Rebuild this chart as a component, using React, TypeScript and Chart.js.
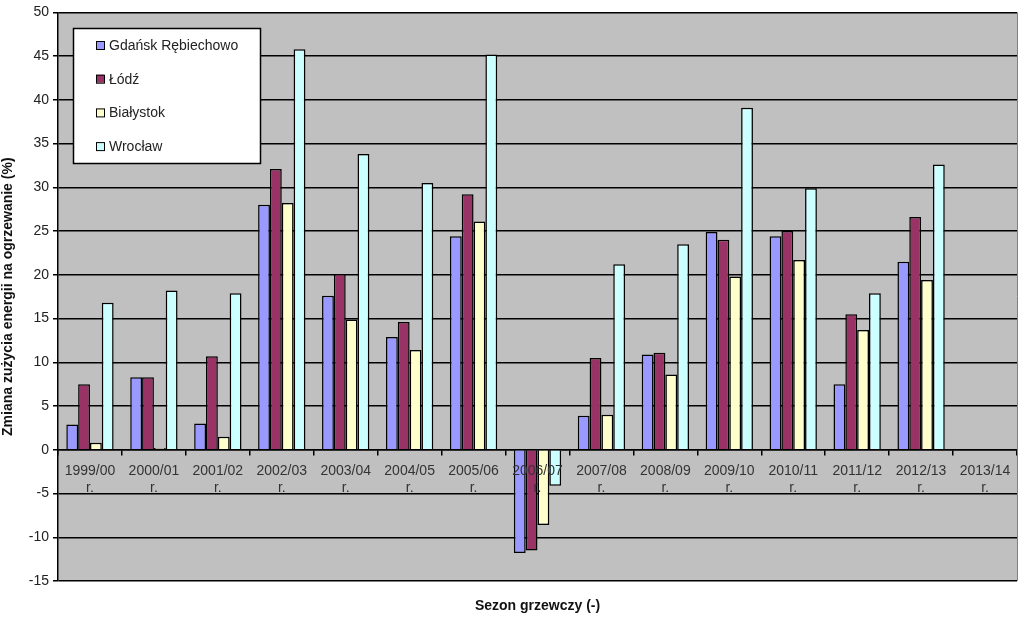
import React, { useEffect, useRef } from "react";
import { Chart, registerables } from "chart.js";

Chart.register(...registerables);

const seasons = [
  "1999/00", "2000/01", "2001/02", "2002/03", "2003/04", "2004/05", "2005/06",
  "2006/07", "2007/08", "2008/09", "2009/10", "2010/11", "2011/12", "2012/13", "2013/14",
];
const seasonSuffix = "r.";

const seriesNames = ["Gdańsk Rębiechowo", "Łódź", "Białystok", "Wrocław"];
const seriesColors = ["#9999FF", "#993366", "#FFFFCC", "#CCFFFF"];

const gdansk = [2.9, 8.3, 3.0, 28.0, 17.6, 12.9, 24.4, -11.8, 3.9, 10.9, 24.9, 24.4, 7.5, 21.5, null];
const lodz = [7.5, 8.3, 10.7, 32.1, 20.1, 14.6, 29.2, -11.5, 10.5, 11.1, 24.0, 25.0, 15.5, 26.6, null];
const bialystok = [0.8, 0.2, 1.5, 28.2, 14.9, 11.4, 26.1, -8.6, 4.0, 8.6, 19.8, 21.7, 13.7, 19.4, null];
const wroclaw = [16.8, 18.2, 17.9, 45.8, 33.8, 30.5, 45.2, -4.1, 21.2, 23.5, 39.1, 29.9, 17.9, 32.6, null];

const yMin = -15;
const yMax = 50;
const yStep = 5;

const yTitle = "Zmiana zużycia energii na ogrzewanie (%)";
const xTitle = "Sezon grzewczy (-)";

const FONT = "'Liberation Sans', Arial, sans-serif";

const bgPlugin = {
  id: "plotBg",
  beforeDraw(chart: any) {
    const { ctx, chartArea } = chart;
    ctx.save();
    ctx.fillStyle = "#C0C0C0";
    ctx.fillRect(chartArea.left, chartArea.top, chartArea.right - chartArea.left, chartArea.bottom - chartArea.top);
    ctx.restore();
  },
  afterDraw(chart: any) {
    const { ctx, chartArea } = chart;
    ctx.save();
    // right border of plot
    ctx.strokeStyle = "#808080";
    ctx.lineWidth = 1;
    ctx.beginPath();
    ctx.moveTo(Math.round(chartArea.right) + 0.5, chartArea.top);
    ctx.lineTo(Math.round(chartArea.right) + 0.5, chartArea.bottom);
    ctx.stroke();

    // legend box
    const lx = Math.round(chartArea.left) + 15;
    const ly = Math.round(chartArea.top) + 16;
    const lw = 187;
    const lh = 135;
    ctx.fillStyle = "#FFFFFF";
    ctx.fillRect(lx, ly, lw, lh);
    ctx.strokeStyle = "#000000";
    ctx.lineWidth = 1.5;
    ctx.strokeRect(lx + 0.5, ly + 0.5, lw, lh);
    ctx.font = `14px ${FONT}`;
    ctx.textBaseline = "middle";
    ctx.textAlign = "left";
    seriesNames.forEach((name, i) => {
      const cy = ly + 17 + i * 33.7;
      ctx.fillStyle = seriesColors[i];
      ctx.fillRect(lx + 23, cy - 4, 8, 8);
      ctx.strokeStyle = "#000";
      ctx.lineWidth = 1;
      ctx.strokeRect(lx + 23.5, cy - 3.5, 8, 8);
      ctx.fillStyle = "#222";
      ctx.fillText(name, lx + 36, cy + 1);
    });

    // x title
    ctx.font = `bold 14px ${FONT}`;
    ctx.textAlign = "center";
    ctx.fillStyle = "#111";
    ctx.fillText(xTitle, (chartArea.left + chartArea.right) / 2, 606);
    ctx.restore();
  },
};

export default function App() {
  const ref = useRef<HTMLCanvasElement | null>(null);

  useEffect(() => {
    if (!ref.current) return;
    const datasets = [gdansk, lodz, bialystok, wroclaw].map((values, i) => ({
      label: seriesNames[i],
      data: values,
      backgroundColor: seriesColors[i],
      borderColor: "#000000",
      borderWidth: 1.5,
      categoryPercentage: 0.74,
      barPercentage: 1.0,
    }));
    const chart = new Chart(ref.current, {
      type: "bar",
      data: {
        labels: seasons.map((s) => [s, seasonSuffix]),
        datasets,
      },
      plugins: [bgPlugin],
      options: {
        animation: false,
        responsive: true,
        maintainAspectRatio: false,
        layout: { padding: { top: 12, right: 7, bottom: 41, left: 0 } },
        plugins: {
          legend: { display: false },
          tooltip: { enabled: false },
          title: { display: false },
        },
        scales: {
          x: {
            position: { y: 0 } as any,
            grid: {
              offset: true,
              drawOnChartArea: false,
              drawTicks: true,
              tickLength: 5,
              color: "#000",
              lineWidth: 1.5,
            },
            border: { display: true, color: "#000", width: 1.5 },
            ticks: {
              z: 1,
              font: { family: FONT, size: 14 },
              color: "#333",
              maxRotation: 0,
              autoSkip: false,
              padding: 8,
            },
            afterFit: (scale: any) => {
              scale.height = 42;
            },
          },
          y: {
            min: yMin,
            max: yMax,
            ticks: {
              stepSize: yStep,
              font: { family: FONT, size: 14 },
              color: "#222",
              padding: 4,
            },
            grid: {
              color: "#000",
              lineWidth: 1.5,
              tickLength: 5,
              drawTicks: true,
            },
            border: { display: true, color: "#000", width: 1.5 },
            title: {
              display: true,
              text: yTitle,
              font: { family: FONT, size: 14, weight: "bold" },
              color: "#111",
              padding: { top: 0, bottom: 4 },
            },
            afterFit: (scale: any) => {
              scale.width = 58;
            },
          },
        },
      },
    });
    return () => chart.destroy();
  }, []);

  return (
    <div style={{ position: "absolute", left: 0, top: 0, width: 1024, height: 622, background: "#fff" }}>
      <canvas ref={ref} />
    </div>
  );
}
